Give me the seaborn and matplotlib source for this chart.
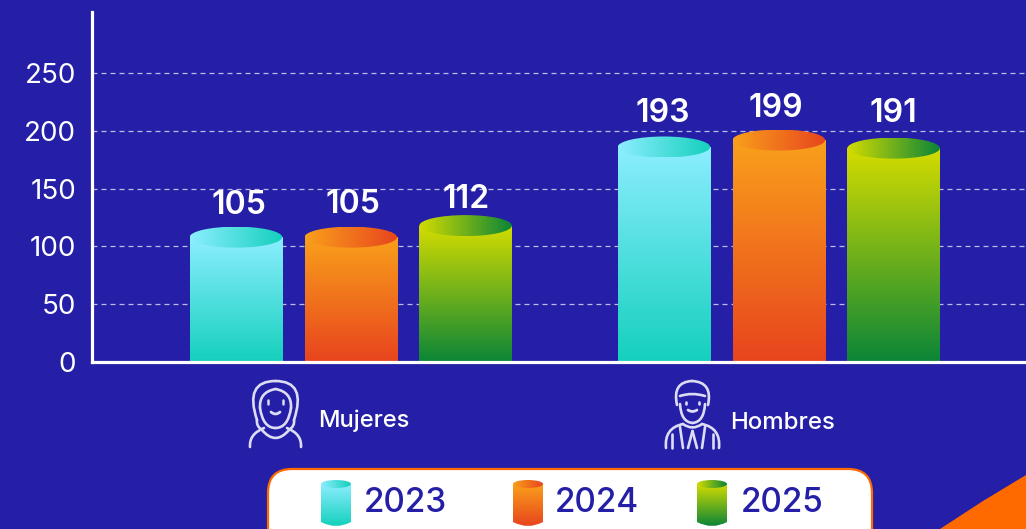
import numpy as np
import pandas as pd
import matplotlib
matplotlib.use("Agg")
import matplotlib.pyplot as plt
import seaborn as sns
from matplotlib.colors import LinearSegmentedColormap as LSC
from matplotlib.patches import Ellipse, FancyBboxPatch, Polygon, PathPatch, Rectangle
from matplotlib.path import Path

categories = ["Mujeres", "Hombres"]
years = ["2023", "2024", "2025"]
labels_2023 = [105, 193]
labels_2024 = [105, 199]
labels_2025 = [112, 191]
# heights as drawn against the axis (the source bars do not sit exactly at their labels)
heights_2023 = [108, 186]
heights_2024 = [108, 192]
heights_2025 = [118, 185]
y_ticks = [0, 50, 100, 150, 200, 250]

BG = "#241FA6"
top_cols = ["#8CEEFF", "#F9A01B", "#D4DC00"]
bot_cols = ["#14D0BC", "#E8441E", "#0B8537"]
ORANGE = "#FF6A00"

sns.set_theme(style="white")
plt.rcParams["font.family"] = ["Inter", "DejaVu Sans"]

W, H = 1026, 529
fig = plt.figure(figsize=(W / 100, H / 100), dpi=100, facecolor=BG)
ax = fig.add_axes([92 / W, 1 - 362 / H, (W - 92) / W, 350 / H], facecolor=BG)

df = pd.DataFrame({
    "grupo": categories * 3,
    "anio": sum([[y] * 2 for y in years], []),
    "altura": heights_2023 + heights_2024 + heights_2025,
})
sns.barplot(data=df, x="grupo", y="altura", hue="anio", hue_order=years, order=categories,
            palette=top_cols, width=0.805, gap=0.195, legend=False, ax=ax, zorder=3)

xlim = (-0.6045, 1.5775)
ylim = (0, 350 / 1.156)
ax.set_xlim(xlim); ax.set_ylim(ylim)
ax.set_xlabel(""); ax.set_ylabel("")
ax.set_xticks([]); ax.set_yticks(y_ticks)
ax.tick_params(axis="y", length=0, pad=11.5, labelsize=20, labelcolor="white")
for s in ["top", "right"]:
    ax.spines[s].set_visible(False)
for s in ["left", "bottom"]:
    ax.spines[s].set_color("white"); ax.spines[s].set_linewidth(2.3); ax.spines[s].set_zorder(6)
ax.yaxis.grid(True, color="#D9D8F2", lw=0.9, ls=(0, (4, 3.2)), alpha=0.85, zorder=1)
ax.set_axisbelow(True)

grad_v = np.linspace(0, 1, 256)[:, None]
grad_h = np.linspace(0, 1, 256)[None, :]
px_y = 350 / (ylim[1] - ylim[0])
ell_h = 21 / px_y

values = labels_2023 + labels_2024 + labels_2025
bars = [p for p in ax.patches if p.get_height() > 0]
# fine placement of each value caption, in points (order: 2023 M/H, 2024 M/H, 2025 M/H)
nudge_x = [2.0, -0.5, 1.7, -1.9, 0.3, -0.4]
nudge_y = [22.5, 24.0, 23.3, 22.5, 19.0, 24.7]
for n, bar in enumerate(bars):
    c = n // 2
    x0, w, h = bar.get_x(), bar.get_width(), bar.get_height()
    cmap = LSC.from_list("g", [top_cols[c], bot_cols[c]])
    bar.set_visible(False)
    im = ax.imshow(grad_v, extent=(x0, x0 + w, 0, h), origin="upper", aspect="auto", cmap=cmap, zorder=3)
    im.set_clip_path(Rectangle((x0, 0), w, h, transform=ax.transData))
    ell = Ellipse((x0 + w / 2, h), w, ell_h, fc="none", ec="none", zorder=4, transform=ax.transData)
    ax.add_patch(ell)
    im2 = ax.imshow(grad_h, extent=(x0, x0 + w, h - ell_h / 2, h + ell_h / 2), aspect="auto",
                    cmap=LSC.from_list("h", [top_cols[c], bot_cols[c]]), zorder=4)
    im2.set_clip_path(ell)
    ax.annotate(str(values[n]), (x0 + w / 2, h), xytext=(nudge_x[n], nudge_y[n]), textcoords="offset points",
                ha="center", va="center", color="white", fontsize=23, fontweight="semibold", zorder=7)
ax.set_xlim(xlim); ax.set_ylim(ylim)

# overlay in pixel coordinates: icons, captions, legend card, corner
ov = fig.add_axes([0, 0, 1, 1], facecolor="none")
ov.set_xlim(0, W); ov.set_ylim(H, 0); ov.axis("off")

ICON = "#DDDCF5"
def line(pts, lw=1.9, curve=False):
    if curve:
        codes = [Path.MOVETO] + [Path.CURVE3] * (len(pts) - 1)
        ov.add_patch(PathPatch(Path(pts, codes), fc="none", ec=ICON, lw=lw, capstyle="round"))
    else:
        ov.plot(*zip(*pts), color=ICON, lw=lw, solid_capstyle="round")

# woman
line([(257, 420), (244, 381), (275.5, 381)], curve=True)
line([(294, 420), (307, 381), (275.5, 381)], curve=True)
line([(260, 408), (259, 392), (275.5, 389)], curve=True)
line([(291, 408), (292, 392), (275.5, 389)], curve=True)
line([(260, 408), (263, 428), (275.5, 428)], curve=True)
line([(291, 408), (288, 428), (275.5, 428)], curve=True)
line([(268, 400), (268, 404)], 1.8); line([(283, 400), (283, 404)], 1.8)
line([(271, 412), (275.5, 416), (280, 412)], 2.0, curve=True)
line([(250, 447), (249, 434), (264, 428)], curve=True)
line([(301, 447), (302, 434), (287, 428)], curve=True)
line([(262, 430), (275.5, 446), (289, 430)], curve=True)
line([(257, 420), (256, 426), (262, 430)], curve=True)
line([(294, 420), (295, 426), (289, 430)], curve=True)

# man
line([(680, 404), (681, 422), (692.5, 423)], curve=True)
line([(705, 404), (704, 422), (692.5, 423)], curve=True)
line([(677, 405), (672, 382), (692, 381)], curve=True)
line([(708, 405), (713, 382), (692, 381)], curve=True)
line([(680, 396), (692, 392), (705, 396)], curve=True)
line([(686, 402), (686, 404)], 1.9); line([(699, 402), (699, 404)], 1.9)
line([(688, 410), (692.5, 413), (697, 410)], 2.0, curve=True)
line([(666, 448), (664, 428), (683, 424)], curve=True)
line([(719, 448), (721, 428), (702, 424)], curve=True)
line([(683, 424), (692.5, 431), (702, 424)], curve=True)
line([(692.5, 431), (688, 448)]); line([(692.5, 431), (697, 448)])
line([(680, 427), (683, 448)]); line([(705, 427), (702, 448)])
line([(672, 434), (672, 448)]); line([(713, 434), (713, 448)])

ov.text(318, 421, categories[0], color="white", fontsize=17, fontweight="medium", va="center", ha="left")
ov.text(730, 423, categories[1], color="white", fontsize=17.3, fontweight="medium", va="center", ha="left")

# corner shape
ov.add_patch(Polygon([(940, 529), (983, 501), (1026, 475), (1026, 529)], fc=ORANGE, ec="none"))

# legend card
ov.add_patch(FancyBboxPatch((268, 469), 604, 90, boxstyle="round,pad=0,rounding_size=24",
                            fc="white", ec=ORANGE, lw=1.6, clip_on=True))
leg_x = [321, 513, 697]
txt_x = [364, 555, 741]
for i, y in enumerate(years):
    x0 = leg_x[i]; w = 30; t = 484; b = 522
    body = PathPatch(Path([(x0, t), (x0, b), (x0 + w / 2, b + 8), (x0 + w, b), (x0 + w, t), (x0, t)],
                          [Path.MOVETO, Path.LINETO, Path.CURVE3, Path.CURVE3, Path.LINETO, Path.CLOSEPOLY]),
                     fc="none", ec="none")
    ov.add_patch(body)
    im = ov.imshow(grad_v, extent=(x0, x0 + w, b + 4, t), origin="upper", aspect="auto",
                   cmap=LSC.from_list("g", [top_cols[i], bot_cols[i]]), zorder=3)
    im.set_clip_path(body)
    e = Ellipse((x0 + w / 2, t), w, 8, fc="none", ec="none")
    ov.add_patch(e)
    im2 = ov.imshow(grad_h, extent=(x0, x0 + w, t + 4, t - 4), aspect="auto",
                    cmap=LSC.from_list("h", [top_cols[i], bot_cols[i]]), zorder=4)
    im2.set_clip_path(e)
    ov.text(txt_x[i], 503, y, color=BG, fontsize=24, fontweight="medium", va="center", ha="left", zorder=5)
ov.set_xlim(0, W); ov.set_ylim(H, 0)

fig.savefig("out.png", dpi=100, facecolor=BG)
